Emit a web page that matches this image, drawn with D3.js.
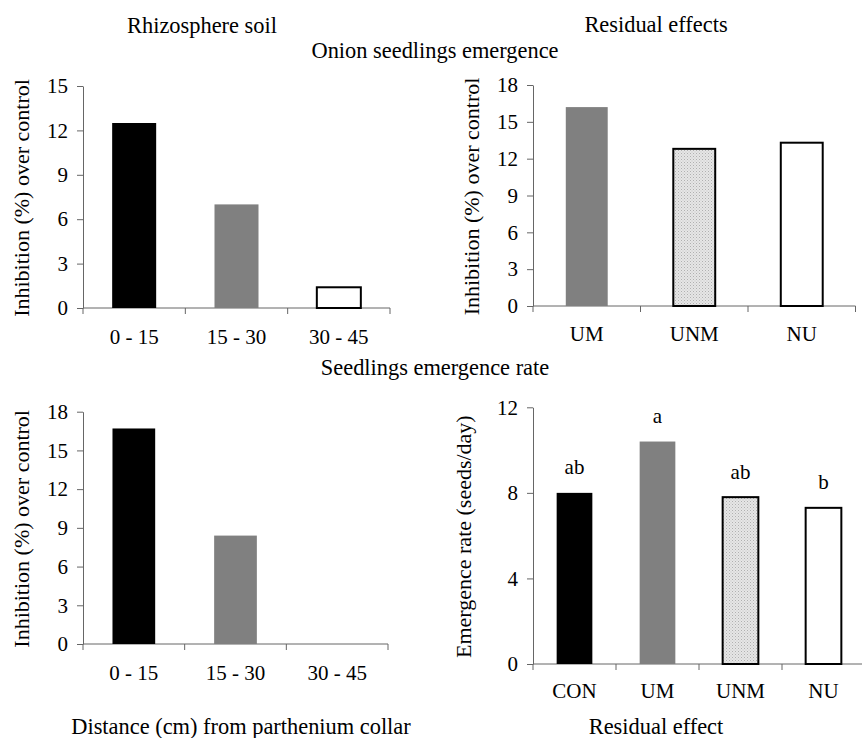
<!DOCTYPE html>
<html>
<head>
<meta charset="utf-8">
<script src="https://cdn.jsdelivr.net/npm/d3@7"></script>
<style>
	body { margin: 0; background: #fff; }
	svg text { font-family: "Liberation Serif", "Times New Roman", serif; fill: #000; }
</style>
</head>
<body>
<svg id="chart" width="862" height="738"></svg>
<script>
"use strict";

// Depth classes (cm) and residual treatments
var depths = ['0 - 15', '15 - 30', '30 - 45'];
var residuals = ['UM', 'UNM', 'NU'];
var residualsAll = ['CON', 'UM', 'UNM', 'NU'];

// Inhibition (%) over control
var emergenceDepth = [12.5, 7.0, 1.4];
var emergenceResidual = [16.2, 12.8, 13.3];
var rateDepth = [16.7, 8.4, 0];

// Emergence rate (seeds/day) and letters
var rateResidual = [8.0, 10.4, 7.8, 7.3];
var rateLetters = ['ab', 'a', 'ab', 'b'];

// Fills per category
var fillDepth = ['black', 'gray', 'white'];
var fillResidual = ['gray', 'dots', 'white'];
var fillResidualAll = ['black', 'gray', 'dots', 'white'];

var yTicksA = [0, 3, 6, 9, 12, 15];
var yTicksB = [0, 3, 6, 9, 12, 15, 18];
var yTicksC = [0, 4, 8, 12];

var AXIS = '#666';

var svg = d3.select('#chart');

// dotted light grey pattern
var defs = svg.append('defs');
var pat = defs.append('pattern').attr('id', 'dots').attr('patternUnits', 'userSpaceOnUse')
	.attr('width', 3).attr('height', 3);
pat.append('rect').attr('width', 3).attr('height', 3).attr('fill', '#e6e6e6');
pat.append('rect').attr('width', 1).attr('height', 1).attr('fill', '#b0b0b0');
pat.append('rect').attr('x', 1.5).attr('y', 1.5).attr('width', 1).attr('height', 1).attr('fill', '#c4c4c4');

var fillMap = {
	black: {fill: '#000', stroke: 'none'},
	gray: {fill: '#808080', stroke: 'none'},
	white: {fill: '#fff', stroke: '#000'},
	dots: {fill: 'url(#dots)', stroke: '#000'}
};

function panel(opt) {
	var g = svg.append('g');

	var x = d3.scaleBand().domain(opt.cats).range([opt.x0, opt.x1])
		.paddingInner(opt.pad).paddingOuter(opt.pad / 2);
	var y = d3.scaleLinear().domain([0, opt.max]).range([opt.y0, opt.y1]);

	// y axis
	var ya = g.append('g')
		.attr('transform', 'translate(' + opt.x0 + ',0)')
		.call(d3.axisLeft(y).tickValues(opt.ticks).tickSize(6).tickSizeOuter(0).tickPadding(9));
	ya.selectAll('path, line').attr('stroke', AXIS);
	ya.selectAll('text').style('font-size', '21px');

	// x axis baseline with ticks at category boundaries
	var step = x.step();
	g.append('line')
		.attr('x1', opt.x0).attr('x2', opt.x1).attr('y1', opt.y0).attr('y2', opt.y0)
		.attr('stroke', AXIS);
	g.selectAll('.bt').data(d3.range(opt.cats.length + 1)).enter().append('line')
		.attr('x1', function(i) { return opt.x0 + i * step; })
		.attr('x2', function(i) { return opt.x0 + i * step; })
		.attr('y1', opt.y0).attr('y2', opt.y0 + 6)
		.attr('stroke', AXIS);

	g.selectAll('.xl').data(opt.cats).enter().append('text')
		.attr('x', function(d) { return x(d) + x.bandwidth() / 2; })
		.attr('y', opt.y0 + opt.labelDy)
		.attr('text-anchor', 'middle')
		.style('font-size', '21px')
		.text(function(d) { return d; });

	// bars
	g.selectAll('.bar').data(opt.vals).enter().append('rect')
		.attr('x', function(d, i) { return x(opt.cats[i]); })
		.attr('width', x.bandwidth())
		.attr('y', function(d) { return y(d); })
		.attr('height', function(d) { return opt.y0 - y(d); })
		.attr('fill', function(d, i) { return d > 0 ? fillMap[opt.fills[i]].fill : 'none'; })
		.attr('stroke', function(d, i) { return d > 0 ? fillMap[opt.fills[i]].stroke : 'none'; })
		.attr('stroke-width', 2);

	if (opt.letters) {
		g.selectAll('.lt').data(opt.vals).enter().append('text')
			.attr('x', function(d, i) { return x(opt.cats[i]) + x.bandwidth() / 2; })
			.attr('y', function(d) { return y(d) - 18.5; })
			.attr('text-anchor', 'middle')
			.style('font-size', '21px')
			.text(function(d, i) { return opt.letters[i]; });
	}

	// y title
	g.append('text')
		.attr('transform', 'translate(' + opt.titleX + ',' + ((opt.y0 + opt.y1) / 2 + 1) + ') rotate(-90)')
		.attr('text-anchor', 'middle')
		.style('font-size', '22px')
		.text(opt.yTitle);
}

panel({cats: depths, vals: emergenceDepth, fills: fillDepth, ticks: yTicksA, max: 15,
	x0: 83, x1: 390, y0: 308, y1: 86, pad: 0.57, labelDy: 36,
	titleX: 29, yTitle: 'Inhibition (%) over control'});

panel({cats: residuals, vals: emergenceResidual, fills: fillResidual, ticks: yTicksB, max: 18,
	x0: 533, x1: 855.5, y0: 306, y1: 85, pad: 0.61, labelDy: 35,
	titleX: 479, yTitle: 'Inhibition (%) over control'});

panel({cats: depths, vals: rateDepth, fills: fillDepth, ticks: yTicksB, max: 18,
	x0: 83, x1: 388, y0: 644, y1: 411.7, pad: 0.58, labelDy: 36,
	titleX: 29, yTitle: 'Inhibition (%) over control'});

panel({cats: residualsAll, vals: rateResidual, fills: fillResidualAll, ticks: yTicksC, max: 12,
	x0: 533, x1: 865, y0: 664, y1: 407.3, pad: 0.57, labelDy: 34,
	titleX: 471, yTitle: 'Emergence rate (seeds/day)', letters: rateLetters});

// headings
var heads = [
	{t: 'Rhizosphere soil', x: 202, y: 33},
	{t: 'Residual effects', x: 656, y: 32},
	{t: 'Onion seedlings emergence', x: 435, y: 58},
	{t: 'Seedlings emergence rate', x: 435, y: 375},
	{t: 'Distance (cm) from parthenium collar', x: 241, y: 734},
	{t: 'Residual effect', x: 656, y: 734}
];
svg.selectAll('.head').data(heads).enter().append('text')
	.attr('x', function(d) { return d.x; })
	.attr('y', function(d) { return d.y; })
	.attr('text-anchor', 'middle')
	.style('font-size', '22.4px')
	.text(function(d) { return d.t; });
</script>
</body>
</html>
